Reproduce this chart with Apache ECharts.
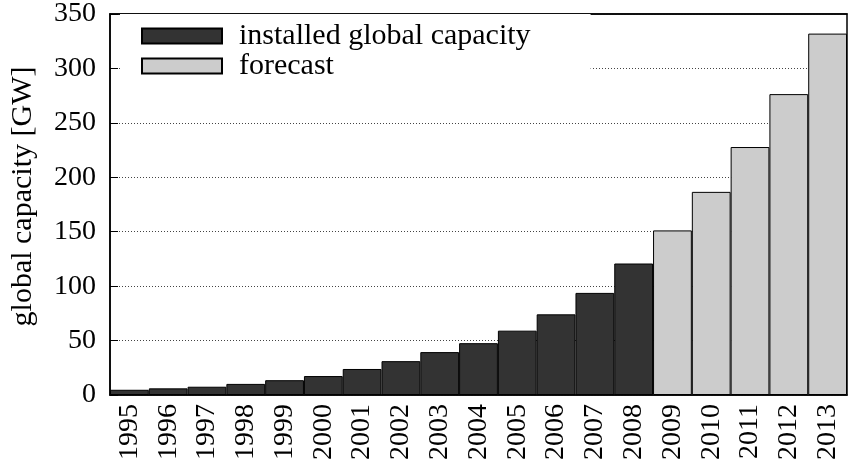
<!DOCTYPE html>
<html>
<head>
<meta charset="utf-8">
<script src="https://cdn.jsdelivr.net/npm/echarts@6/dist/echarts.min.js"></script>
<style>
  html, body { margin: 0; padding: 0; background: #fff; }
  #chart { width: 851px; height: 472px; }
</style>
</head>
<body>
<div id="chart"></div>
<script>
const years = ['1995', '1996', '1997', '1998', '1999', '2000', '2001', '2002', '2003', '2004',
  '2005', '2006', '2007', '2008', '2009', '2010', '2011', '2012', '2013'];
// installed capacity up to 2008, forecast afterwards (GW)
const installed = [4.8, 6.1, 7.6, 10.2, 13.6, 17.4, 23.9, 31.1, 39.4, 47.6,
  59.1, 74.1, 93.8, 120.8, '-', '-', '-', '-', '-'];
const forecast = ['-', '-', '-', '-', '-', '-', '-', '-', '-', '-',
  '-', '-', '-', '-', 151.2, 186.6, 227.8, 276.4, 332];

const font = 'Liberation Serif';
const chart = echarts.init(document.getElementById('chart'));

chart.setOption({
  animation: false,
  textStyle: { fontFamily: font, color: '#000' },
  grid: {
    left: 106, right: 4, top: 13, bottom: 77,
    show: true, borderColor: '#000', borderWidth: 1.5, backgroundColor: 'transparent'
  },
  legend: {
    orient: 'vertical',
    left: 120,
    top: 14,
    padding: [7, 60, 7, 21],
    backgroundColor: '#fff',
    icon: 'rect',
    itemWidth: 80,
    itemHeight: 15,
    itemGap: 0,
    data: ['installed global capacity', 'forecast'],
    textStyle: { fontFamily: font, fontSize: 30, color: '#000', padding: [0, 0, 0, 12] }
  },
  xAxis: [
    {
      type: 'category',
      data: years,
      axisLine: { lineStyle: { color: '#000', width: 1.5 } },
      axisTick: { inside: true, length: 8, alignWithLabel: true, lineStyle: { color: '#000' } },
      axisLabel: { interval: 0, rotate: 90, margin: 9, fontSize: 28, color: '#000', fontFamily: font }
    },
    {
      type: 'category',
      position: 'top',
      data: years,
      axisLine: { lineStyle: { color: '#000', width: 1.5 } },
      axisTick: { inside: true, length: 8, alignWithLabel: true, lineStyle: { color: '#000' } },
      axisLabel: { show: false }
    }
  ],
  yAxis: {
    type: 'value',
    min: 0,
    max: 350,
    interval: 50,
    name: 'global capacity [GW]',
    nameLocation: 'middle',
    nameGap: 72,
    nameTextStyle: { fontSize: 30, color: '#000', fontFamily: font, padding: [0, 0, 0, 16] },
    axisLine: { show: true, lineStyle: { color: '#000', width: 1.5 } },
    axisTick: { show: true, inside: true, length: 8, lineStyle: { color: '#000' } },
    axisLabel: { margin: 14, fontSize: 28, color: '#000', fontFamily: font },
    splitLine: { lineStyle: { color: '#444', width: 1, type: [1, 2] } }
  },
  series: [
    {
      name: 'installed global capacity',
      type: 'bar',
      data: installed,
      barGap: '-100%',
      barCategoryGap: '0%',
      itemStyle: { color: '#333333', borderColor: '#000', borderWidth: 1 }
    },
    {
      name: 'forecast',
      type: 'bar',
      data: forecast,
      barGap: '-100%',
      barCategoryGap: '0%',
      itemStyle: { color: '#cccccc', borderColor: '#000', borderWidth: 1 }
    }
  ]
});
</script>
</body>
</html>
